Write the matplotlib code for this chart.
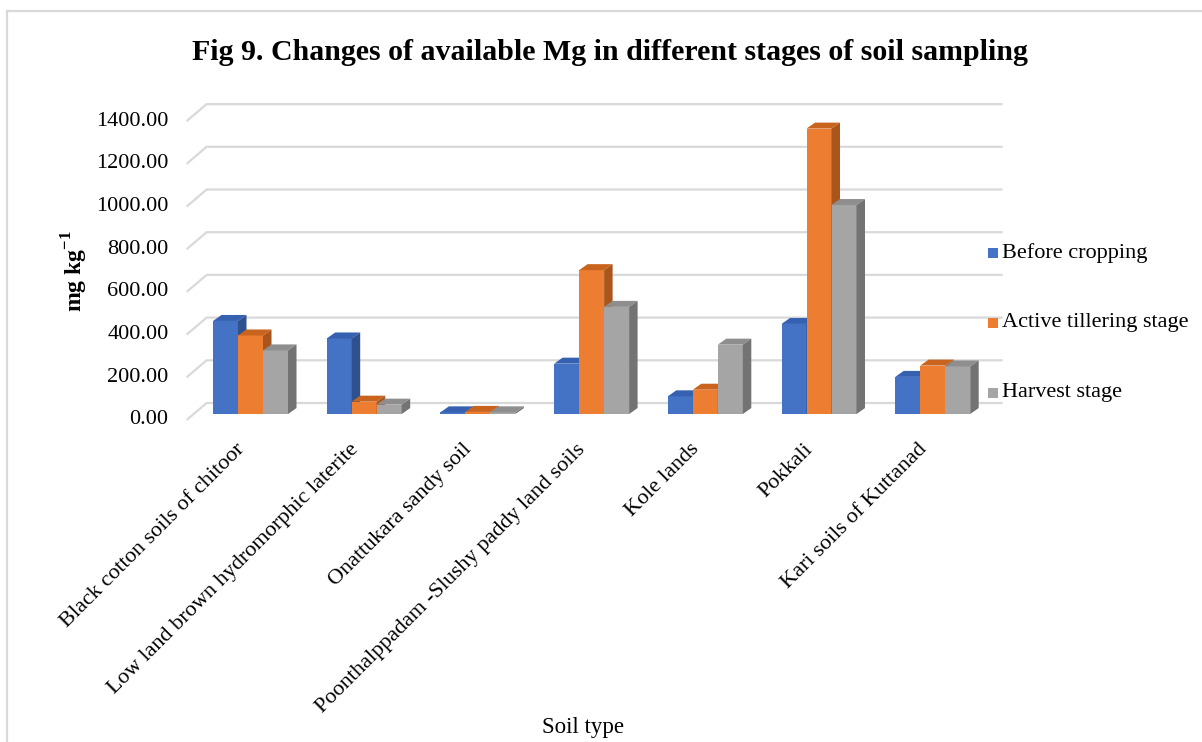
import matplotlib
matplotlib.use("Agg")
import matplotlib.pyplot as plt
from matplotlib.patches import Polygon, Rectangle
from matplotlib.lines import Line2D

plt.rcParams['font.family'] = ['Liberation Serif', 'DejaVu Serif']
plt.rcParams['mathtext.fontset'] = 'custom'
plt.rcParams['mathtext.rm'] = 'Liberation Serif'
plt.rcParams['mathtext.bf'] = 'Liberation Serif:bold'

# Available Mg (mg/kg) per soil type and sampling stage
soils = ['Black cotton soils of chitoor',
         'Low land brown hydromorphic laterite',
         'Onattukara sandy soil',
         'Poonthalppadam -Slushy paddy land soils',
         'Kole lands',
         'Pokkali',
         'Kari soils of Kuttanad']
stages = ['Before cropping', 'Active tillering stage', 'Harvest stage']
before_cropping = [436, 354, 8, 236, 83, 422, 174]
active_tillering = [368, 58, 10, 674, 114, 1337, 227]
harvest = [298, 44, 8, 502, 325, 979, 223]
yticks = [0, 200, 400, 600, 800, 1000, 1200, 1400]

series = [before_cropping, active_tillering, harvest]
front_cols = ['#4472C4', '#ED7D31', '#A5A5A5']
top_cols = ['#3661B0', '#C9641F', '#8E8E8E']
side_cols = ['#2F528F', '#A9551C', '#737373']

W, H = 1202, 742
PX_X = 113.7      # pixels per category
PX_Y = 0.2135     # pixels per mg/kg
X0 = 243.5        # pixel x of the first category
Y0 = 420          # pixel y of value 0 on the front plane

# oblique depth of the floor/wall and of each bar
DX, DY = 20 / PX_X, 17 / PX_Y
D0 = 0.35
BDX, BDY = 8.5 / PX_X, 6 / PX_Y
BW = 25 / PX_X

fig = plt.figure(figsize=(W / 100, H / 100), dpi=100)
left_px, right_px, top_px, bot_px = 180, 1010, 95, 428
ax = fig.add_axes([left_px / W, 1 - bot_px / H, (right_px - left_px) / W, (bot_px - top_px) / H])
ax.set_xlim((left_px - X0) / PX_X, (right_px - X0) / PX_X)
ax.set_ylim((Y0 - bot_px) / PX_Y, (Y0 - top_px) / PX_Y)
ax.axis('off')

n = len(soils)
x_lo, x_hi = -0.5, n - 0.5

# gridlines on the back wall with the slanted floor edge
for v in yticks:
    ax.plot([x_lo, x_lo + DX, x_hi + DX], [v, v + DY, v + DY],
            color='#D9D9D9', lw=1.6, zorder=1, solid_capstyle='butt')
    ax.text(x_lo - 0.16, v, '%.2f' % v, ha='right', va='center', fontsize=16)

# bars with top and side faces
for i in range(n):
    for k, vals in enumerate(series):
        v = vals[i]
        xl = i + D0 * DX + (k - 1.5) * BW
        xr = xl + BW
        base = D0 * DY
        top = base + v
        ax.bar(xl, v, width=BW, bottom=base, align='edge',
               color=front_cols[k], linewidth=0, zorder=2 + k)
        ax.add_patch(Polygon([(xl, top), (xr, top), (xr + BDX, top + BDY), (xl + BDX, top + BDY)],
                             closed=True, facecolor=top_cols[k], edgecolor='none', zorder=2 + k))
        ax.add_patch(Polygon([(xr, base), (xr + BDX, base + BDY), (xr + BDX, top + BDY), (xr, top)],
                             closed=True, facecolor=side_cols[k], edgecolor='none', zorder=2 + k))

# rotated category labels
for i, name in enumerate(soils):
    ax.text(i + 0.044, (Y0 - 440) / PX_Y, name, rotation=45,
            ha='right', va='top', fontsize=16)

# legend on the right
for k, name in enumerate(stages):
    yc = 253 + 70 * k
    fig.add_artist(Rectangle((988 / W, 1 - (yc + 5) / H), 10 / W, 10 / H,
                             transform=fig.transFigure, facecolor=front_cols[k], edgecolor='none'))
    fig.text(1002 / W, 1 - yc / H, name, ha='left', va='center', fontsize=16)

fig.text(610 / W, 1 - 52 / H,
         'Fig 9. Changes of available Mg in different stages of soil sampling',
         ha='center', va='center', fontsize=21.5, fontweight='bold')
fig.text(75 / W, 1 - 271 / H, r'mg kg$^{\mathbf{-1}}$', rotation=90,
         ha='center', va='center', fontsize=17, fontweight='bold')
fig.text(583 / W, 1 - 728 / H, 'Soil type', ha='center', va='center', fontsize=16.5)

# thin frame on the left and top
fig.add_artist(Line2D([7 / W, 7 / W], [0, 1 - 11 / H], color='#D9D9D9', lw=1.6))
fig.add_artist(Line2D([7 / W, 1], [1 - 11 / H, 1 - 11 / H], color='#D9D9D9', lw=1.6))

fig.savefig('out.png', dpi=100)
